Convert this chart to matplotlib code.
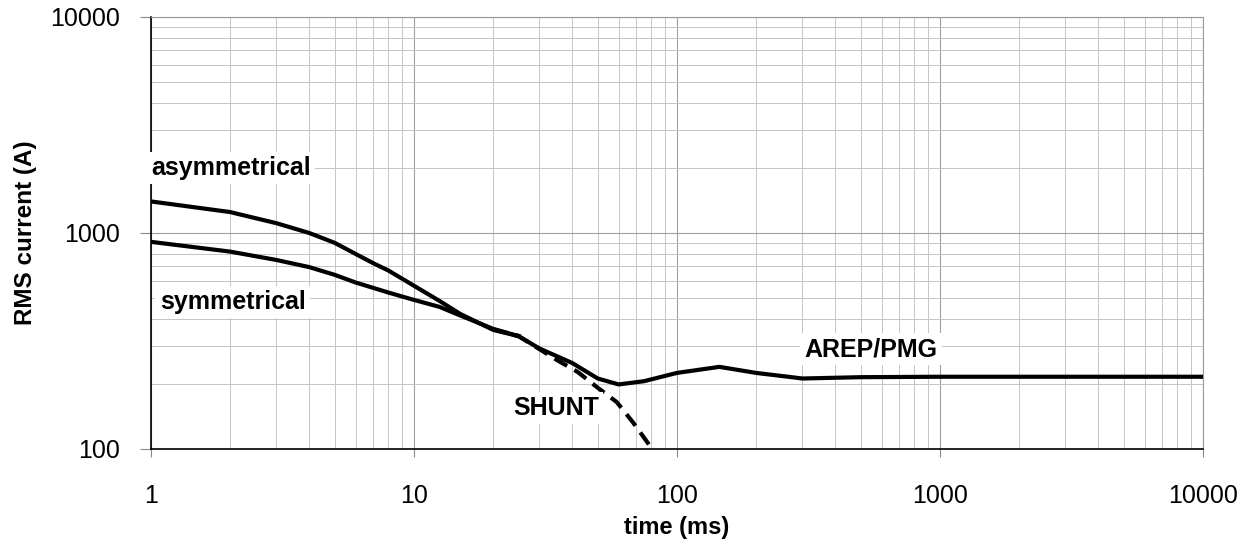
import matplotlib
matplotlib.use('Agg')
import matplotlib.pyplot as plt
from matplotlib.ticker import LogLocator, NullFormatter, FixedLocator, FixedFormatter

plt.rcParams['font.family'] = ['Liberation Sans', 'DejaVu Sans']

# asymmetrical fault current (ms, A)
asym_t = [1, 2, 3, 4, 5, 6, 7, 8, 10, 12.5, 15, 20, 25]
asym_i = [1400, 1250, 1110, 1000, 900, 800, 725, 670, 570, 485, 422, 356, 333]

# symmetrical fault current
sym_t = [1, 2, 3, 4, 5, 6, 8, 10, 12.5, 15, 20, 25]
sym_i = [910, 820, 750, 695, 640, 590, 530, 490, 455, 415, 360, 333]

# AREP/PMG sustained current
arep_t = [25, 30, 40, 50, 60, 75, 100, 145, 200, 300, 500, 1000, 10000]
arep_i = [333, 292, 250, 212, 199, 206, 225, 240, 225, 212, 215, 216, 216]

# SHUNT excitation
shunt_t = [20, 25, 30, 35, 42, 50, 59, 68, 81]
shunt_i = [358, 333, 290, 258, 227, 192, 165, 133, 99]

labels = [('asymmetrical', 1.0, 2000, 'left'),
          ('symmetrical', 1.08, 480, 'left'),
          ('SHUNT', 34.7, 155, 'center'),
          ('AREP/PMG', 547, 290, 'center')]

fig = plt.figure(figsize=(12.47, 5.39), dpi=100)
ax = fig.add_axes([0.121, 0.167, 0.8437, 0.8015])
ax.set_xscale('log')
ax.set_yscale('log')
ax.set_xlim(1, 10000)
ax.set_ylim(100, 10000)

ax.grid(True, which='minor', color='#c4c4c4', linewidth=0.7)
ax.grid(True, which='major', color='#a0a0a0', linewidth=0.8)
ax.set_axisbelow(True)

ax.plot(shunt_t, shunt_i, color='black', linewidth=3, linestyle=(0, (3.5, 2)), zorder=3)
ax.plot(asym_t, asym_i, color='black', linewidth=3, solid_joinstyle='round', zorder=4)
ax.plot(sym_t, sym_i, color='black', linewidth=3, solid_joinstyle='round', zorder=4)
ax.plot(arep_t, arep_i, color='black', linewidth=3, solid_joinstyle='round', zorder=4)

for txt, x, y, ha in labels:
    ax.text(x, y, txt, ha=ha, va='center', fontsize=18, fontweight='bold',
            bbox=dict(facecolor='white', edgecolor='none', pad=3), zorder=6,
            clip_on=False)

ax.xaxis.set_major_locator(FixedLocator([1, 10, 100, 1000, 10000]))
ax.xaxis.set_major_formatter(FixedFormatter(['1', '10', '100', '1000', '10000']))
ax.yaxis.set_major_locator(FixedLocator([100, 1000, 10000]))
ax.yaxis.set_major_formatter(FixedFormatter(['100', '1000', '10000']))
ax.xaxis.set_minor_locator(LogLocator(base=10, subs=range(2, 10)))
ax.yaxis.set_minor_locator(LogLocator(base=10, subs=range(2, 10)))
ax.xaxis.set_minor_formatter(NullFormatter())
ax.yaxis.set_minor_formatter(NullFormatter())
ax.tick_params(which='minor', length=0)
ax.tick_params(axis='x', which='major', length=6, color='#888888', labelsize=18, pad=19)
ax.tick_params(axis='y', which='major', length=8, color='#888888', labelsize=18, pad=14)

for s in ['top', 'right']:
    ax.spines[s].set_color('#999999')
for s in ['left', 'bottom']:
    ax.spines[s].set_color('black')
    ax.spines[s].set_linewidth(1.2)

ax.set_xlabel('time (ms)', fontsize=17, fontweight='bold', labelpad=6)
ax.set_ylabel('RMS current (A)', fontsize=17.5, fontweight='bold', labelpad=10)

fig.savefig('out.png', dpi=100)
